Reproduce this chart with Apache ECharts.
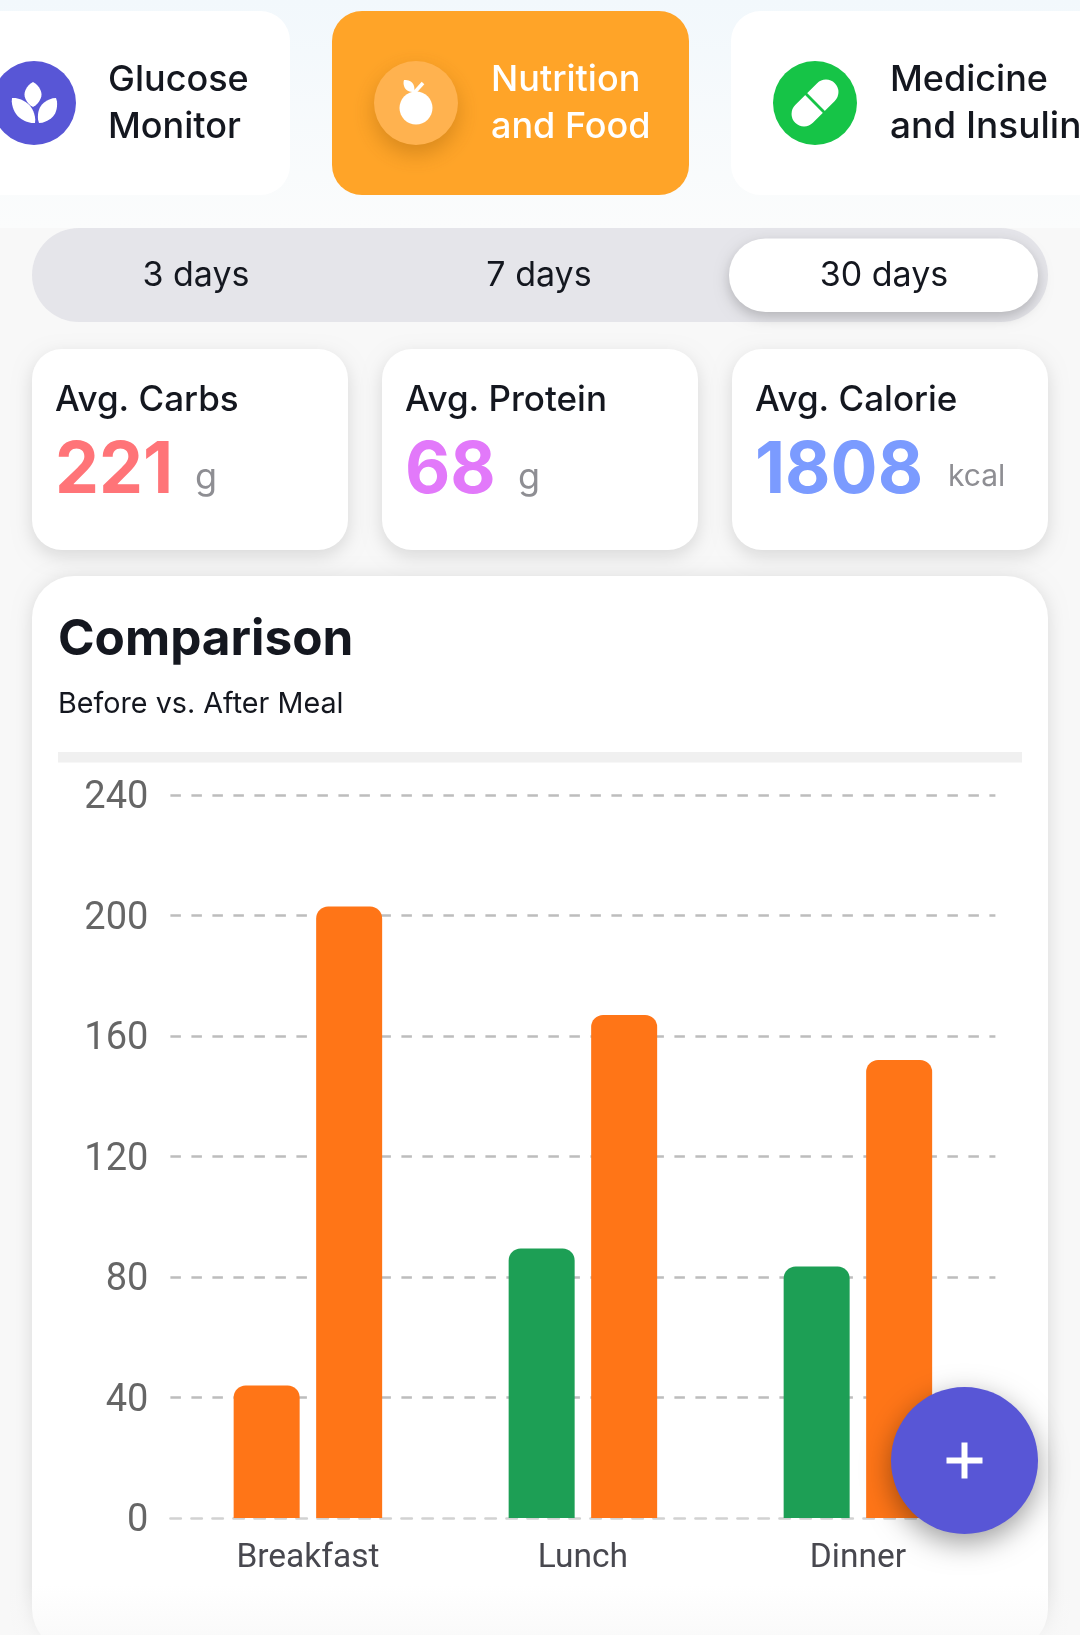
<!DOCTYPE html>
<html><head><meta charset="utf-8">
<style>html,body{margin:0;padding:0;background:#f8f8f8}#c{width:1080px;height:1635px}</style>
<script src="https://cdn.jsdelivr.net/npm/echarts@6/dist/echarts.min.js"></script>
</head><body><div id="c"></div>
<script>
const categories = ['Breakfast', 'Lunch', 'Dinner'];
const beforeMeal = [44, 89.5, 83.5];
const afterMeal = [203, 167, 152];
const beforeColors = ['#ff7517', '#1d9f55', '#1d9f55'];
const afterColors = ['#ff7517', '#ff7517', '#ff7517'];
const rangeLabels = ['3 days', '7 days', '30 days'];
const statLabels = ['Avg. Carbs', 'Avg. Protein', 'Avg. Calorie'];
const statValues = ['221', '68', '1808'];
const statUnits = ['g', 'g', 'kcal'];
const statColors = ['#ff7478', '#e279fa', '#7b9bff'];

const UI = 'Inter, Lato, sans-serif';
const INK = '#14171f';
const chart = echarts.init(document.getElementById('c'), null, {width: 1080, height: 1635});

function txt(x, y, text, size, fill, weight, sx, align) {
  return {type: 'text', x, y, z: 10, scaleX: sx || 1, originX: 0, originY: 0,
    style: {text, fill, fontSize: size, fontWeight: weight || 500, fontFamily: UI,
      textAlign: align || 'left', textVerticalAlign: 'middle'}};
}
function card(x, y, w, h, r, fill, blur, alpha, oy) {
  return {type: 'rect', z: -5, shape: {x, y, width: w, height: h, r},
    style: {fill, shadowBlur: blur || 0, shadowColor: 'rgba(0,0,0,' + (alpha || 0) + ')', shadowOffsetY: oy || 0}};
}
function petal(ax, ay, bx, by, w, fill) {
  const pts = [], n = 14, dx = bx - ax, dy = by - ay, L = Math.hypot(dx, dy);
  const ux = -dy / L, uy = dx / L;
  for (let i = 0; i <= n; i++) { const t = i / n, o = w * Math.pow(Math.sin(Math.PI * t), 0.75);
    pts.push([ax + dx * t + ux * o, ay + dy * t + uy * o]); }
  for (let i = n - 1; i > 0; i--) { const t = i / n, o = w * Math.pow(Math.sin(Math.PI * t), 0.75);
    pts.push([ax + dx * t - ux * o, ay + dy * t - uy * o]); }
  return {type: 'polygon', z: 10, shape: {points: pts}, style: {fill}};
}
const els = [];
// page backgrounds
els.push({type: 'rect', z: -20, shape: {x: 0, y: 0, width: 1080, height: 228},
  style: {fill: {type: 'linear', x: 0, y: 0, x2: 0, y2: 1,
    colorStops: [{offset: 0, color: '#f2f8fc'}, {offset: 1, color: '#fbfcfc'}]}}});
// top tiles
els.push(card(-60, 11, 350, 184, 30, '#ffffff'));
els.push(card(332, 11, 357, 184, 30, '#ffa428'));
els.push(card(731, 11, 400, 184, 30, '#ffffff'));
els.push({type: 'circle', z: 5, shape: {cx: 34, cy: 103, r: 42}, style: {fill: '#5856d6'}});
els.push({type: 'circle', z: 5, shape: {cx: 416, cy: 103, r: 42},
  style: {fill: '#ffb24f', shadowBlur: 22, shadowColor: 'rgba(120,70,0,0.3)', shadowOffsetY: 9}});
els.push({type: 'circle', z: 5, shape: {cx: 815, cy: 103, r: 42}, style: {fill: '#16c447'}});
els.push(petal(33, 82, 33, 107, 8.5, '#fff'));
els.push(petal(12, 98, 35, 123, 8, '#fff'));
els.push(petal(56, 98, 39, 123, 8, '#fff'));
els.push({type: 'circle', z: 10, shape: {cx: 416, cy: 108, r: 16.5}, style: {fill: '#fff'}});
els.push(petal(404, 80, 414, 92, 4.5, '#fff'));
els.push({type: 'line', z: 10, shape: {x1: 414, y1: 93, x2: 423, y2: 83}, style: {stroke: '#fff', lineWidth: 3.5}});
els.push({type: 'rect', z: 10, x: 815, y: 103, rotation: Math.PI / 4, shape: {x: -28, y: -12.5, width: 56, height: 25, r: 12.5}, style: {fill: '#fff'}});
els.push({type: 'rect', z: 11, x: 815, y: 103, rotation: Math.PI / 4, shape: {x: -1.4, y: -14, width: 2.8, height: 28}, style: {fill: '#16c447'}});
els.push(txt(108, 80, 'Glucose', 36, INK, 500));
els.push(txt(108, 127, 'Monitor', 36, INK, 500));
els.push(txt(491, 80, 'Nutrition', 36, '#ffffff', 500));
els.push(txt(491, 127, 'and Food', 36, '#ffffff', 500));
els.push(txt(890, 80, 'Medicine', 36, INK, 500));
els.push(txt(890, 127, 'and Insulin', 37, INK, 500));
// range selector
els.push(card(32, 228, 1016, 94, 47, '#e5e5ea'));
els.push({type: 'rect', z: -4, shape: {x: 729, y: 238.5, width: 309, height: 73.5, r: 36.5},
  style: {fill: '#fff', shadowBlur: 14, shadowColor: 'rgba(0,0,0,0.22)', shadowOffsetY: 5}});
[196, 539, 884].forEach((x, i) => els.push(txt(x, 276, rangeLabels[i], 34, INK, 400, 1, 'center')));
// stat cards
[32, 382, 732].forEach((x, i) => {
  els.push(card(x, 349, 316, 201, 30, '#fff', 18, 0.13, 6));
  els.push(txt(x + 23, 400, statLabels[i], 35, INK, 500));
  els.push(txt(x + 23, 471, statValues[i], 72, statColors[i], 700, 0.97));
});
els.push(txt(195, 478, statUnits[0], 36, '#8e8e93', 400));
els.push(txt(518, 478, statUnits[1], 36, '#8e8e93', 400));
els.push(txt(948, 477, statUnits[2], 30, '#8e8e93', 400));
// comparison card
els.push(card(32, 576, 1016, 1075, 42, '#fff', 18, 0.12, 2));
els.push(txt(58, 640, 'Comparison', 50, INK, 700, 0.99));
els.push(txt(58, 704, 'Before vs. After Meal', 29, INK, 400, 0.99));
els.push({type: 'rect', z: -3, shape: {x: 58, y: 752, width: 964, height: 10.5}, style: {fill: '#f0f0f0'}});
// bottom fade
els.push({type: 'rect', z: 50, shape: {x: 0, y: 1585, width: 1080, height: 50},
  style: {fill: {type: 'linear', x: 0, y: 0, x2: 0, y2: 1,
    colorStops: [{offset: 0, color: 'rgba(248,248,248,0)'}, {offset: 1, color: 'rgba(248,248,248,0.75)'}]}}});
// floating button
els.push({type: 'circle', z: 100, shape: {cx: 964.5, cy: 1460.5, r: 73.5},
  style: {fill: '#5856d6', shadowBlur: 28, shadowColor: 'rgba(0,0,0,0.38)', shadowOffsetY: 9}});
els.push({type: 'rect', z: 101, shape: {x: 946.5, y: 1457.5, width: 36, height: 6}, style: {fill: '#fff'}});
els.push({type: 'rect', z: 101, shape: {x: 961.5, y: 1442.5, width: 6, height: 36}, style: {fill: '#fff'}});

const barTop = 12;
chart.setOption({
  animation: false,
  backgroundColor: '#f8f8f8',
  graphic: {elements: els},
  grid: {left: 170.4, width: 825, top: 795, height: 723, containLabel: false},
  xAxis: {type: 'category', data: categories,
    axisTick: {show: false},
    axisLine: {show: true, lineStyle: {color: '#d2d2d2', width: 2.5, type: [10.5, 10.5]}},
    axisLabel: {margin: 24, fontFamily: 'Roboto', fontSize: 33.5, color: '#48484f'}},
  yAxis: {type: 'value', min: 0, max: 240, interval: 40,
    axisLine: {show: false}, axisTick: {show: false},
    axisLabel: {margin: 22, fontFamily: 'Roboto', fontSize: 38, color: '#666666',
      formatter: '{n|{value}}', rich: {n: {fontFamily: 'Roboto', fontSize: 38, color: '#666666', padding: [7, 0, 0, 0]}}},
    splitLine: {show: true, showMinLine: false, lineStyle: {color: '#bdbdbd', width: 2.5, type: [10.5, 10.5]}}},
  series: [
    {name: 'Before', type: 'bar', barWidth: 66, barGap: '25%', silent: true,
     data: beforeMeal.map((v, i) => ({value: v, itemStyle: {color: beforeColors[i]}})),
     itemStyle: {borderRadius: [barTop, barTop, 0, 0]}},
    {name: 'After', type: 'bar', barWidth: 66, silent: true,
     data: afterMeal.map((v, i) => ({value: v, itemStyle: {color: afterColors[i]}})),
     itemStyle: {borderRadius: [barTop, barTop, 0, 0]}}
  ]
});
</script></body></html>
